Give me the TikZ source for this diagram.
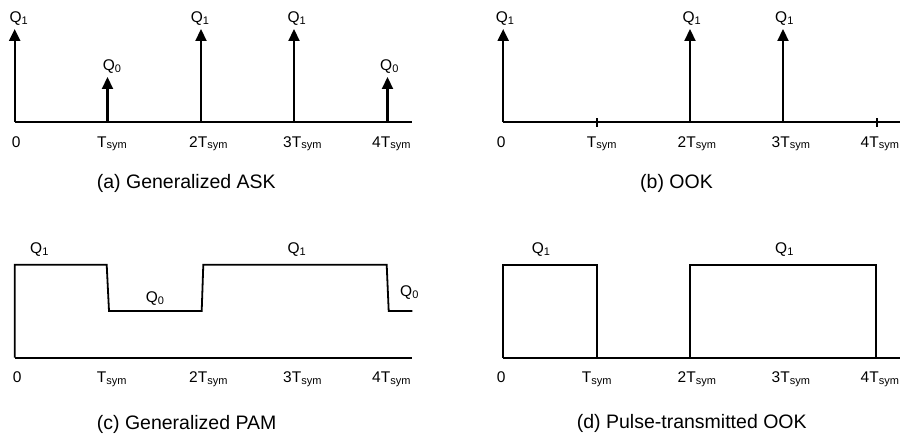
\documentclass[tikz,border=0pt]{standalone}
\usepackage{fontspec}
\setmainfont{Liberation Sans}
\usetikzlibrary{arrows.meta}

% smaller, slightly lowered index text (Q_1, T_sym)
\newcommand\lowsub[1]{\raisebox{-1.8pt}{\fontsize{11}{12}\selectfont #1}}
\newcommand\Tsym{T\lowsub{sym}}

% time-axis labels 0, T, 2T, 3T, 4T; #1 = name prefix, #2 = x of "0", #3 = x of "T"
\newcommand\axislabels[3]{%
  \node[lbl] (#1-l0) at (#2,147) {0};
  \node[lbl] (#1-l1) at (#3,147) {\Tsym};
  \node[lbl] (#1-l2) at (189,147) {2\Tsym};
  \node[lbl] (#1-l3) at (283,147) {3\Tsym};
  \node[lbl] (#1-l4) at (372,147) {4\Tsym};}

\begin{document}
\begin{tikzpicture}[x=1pt,y=-1pt,
  axisline/.style={line width=1.8pt},
  wave/.style={line width=1.8pt, line join=miter},
  stem/.style={line width=2.2pt,-{Triangle[length=12pt,width=11pt]}},
  tickmark/.style={line width=1.6pt},
  lbl/.style={anchor=base west, inner sep=0pt, font=\fontsize{15.5}{18}\selectfont},
  captext/.style={anchor=base west, inner sep=0pt, font=\fontsize{19.5}{22}\selectfont}]
\useasboundingbox (0,0) rectangle (903,436);

% ---------- (a) Generalized ASK ----------
\begin{scope}
  \coordinate (a0) at (14.7,122);
  \coordinate (a1) at (107.5,122);
  \coordinate (a2) at (201,122);
  \coordinate (a3) at (294,122);
  \coordinate (a4) at (387.5,122);
  \coordinate (aend) at (412,122);
  \draw[axisline] (a0) -- (aend);
  \draw[stem] (a0) -- ++(0,-93);
  \draw[stem] (a1) -- ++(0,-45);
  \draw[stem] (a2) -- ++(0,-93);
  \draw[stem] (a3) -- ++(0,-93);
  \draw[stem] (a4) -- ++(0,-45);
  \node[lbl] (a-q0) at (9.3,23) {Q\lowsub{1}};
  \node[lbl] (a-q1) at (102.7,70.5) {Q\lowsub{0}};
  \node[lbl] (a-q2) at (190.7,23) {Q\lowsub{1}};
  \node[lbl] (a-q3) at (287.3,23) {Q\lowsub{1}};
  \node[lbl] (a-q4) at (380,70.5) {Q\lowsub{0}};
  \axislabels{a}{11.7}{97}
  \node[captext] (a-cap) at (96.7,188) {(a) Generalized ASK};
\end{scope}

% ---------- (b) OOK ----------
\begin{scope}[shift={(488.5,0)}]
  \coordinate (b0) at (14.7,122);
  \coordinate (b1) at (108.5,122);
  \coordinate (b2) at (201.5,122);
  \coordinate (b3) at (294.5,122);
  \coordinate (b4) at (388.5,122);
  \coordinate (bend) at (411.5,122);
  \draw[axisline] (b0) -- (bend);
  \draw[tickmark] ([yshift=-4.5pt]b1) -- ([yshift=4.5pt]b1);
  \draw[tickmark] ([yshift=-4.5pt]b4) -- ([yshift=4.5pt]b4);
  \draw[stem] (b0) -- ++(0,-93);
  \draw[stem] (b2) -- ++(0,-93);
  \draw[stem] (b3) -- ++(0,-93);
  \node[lbl] (b-q0) at (7.2,23) {Q\lowsub{1}};
  \node[lbl] (b-q2) at (193.8,23) {Q\lowsub{1}};
  \node[lbl] (b-q3) at (286.5,23) {Q\lowsub{1}};
  \axislabels{b}{8.2}{98.2}
  \node[captext] (b-cap) at (151.5,188) {(b) OOK};
\end{scope}

% ---------- (c) Generalized PAM ----------
\begin{scope}[shift={(0,235.7)}]
  \coordinate (c0) at (14.7,122);
  \coordinate (cend) at (412,122);
  \draw[axisline] (c0) -- (cend);
  \draw[wave] (c0) -- (14.7,29) -- (106.7,29) -- (109,75.3) -- (201.7,75.3)
      -- (203.3,29) -- (386.7,29) -- (388.7,75.3) -- (412.3,75.3);
  \node[lbl] (c-q0) at (30,17.5) {Q\lowsub{1}};
  \node[lbl] (c-q1) at (145.7,66.5) {Q\lowsub{0}};
  \node[lbl] (c-q2) at (287.3,17.5) {Q\lowsub{1}};
  \node[lbl] (c-q4) at (400,60.5) {Q\lowsub{0}};
  \axislabels{c}{12.7}{96.7}
  \node[captext] (c-cap) at (96.7,193.3) {(c) Generalized PAM};
\end{scope}

% ---------- (d) Pulse-transmitted OOK ----------
\begin{scope}[shift={(488.5,235.7)}]
  \coordinate (d0) at (14.5,122);
  \coordinate (dend) at (411.5,122);
  \draw[axisline] (d0) -- (dend);
  \draw[wave] (d0) -- (14.5,29) -- (108.5,29) -- (108.5,122);
  \draw[wave] (201.5,122) -- (201.5,29) -- (387.8,29) -- (387.8,122);
  \node[lbl] (d-q0) at (43.2,17.5) {Q\lowsub{1}};
  \node[lbl] (d-q2) at (286.5,17.5) {Q\lowsub{1}};
  \axislabels{d}{8.2}{93.2}
  \node[captext] (d-cap) at (88.2,192.3) {(d) Pulse-transmitted OOK};
\end{scope}
\end{tikzpicture}
\end{document}
